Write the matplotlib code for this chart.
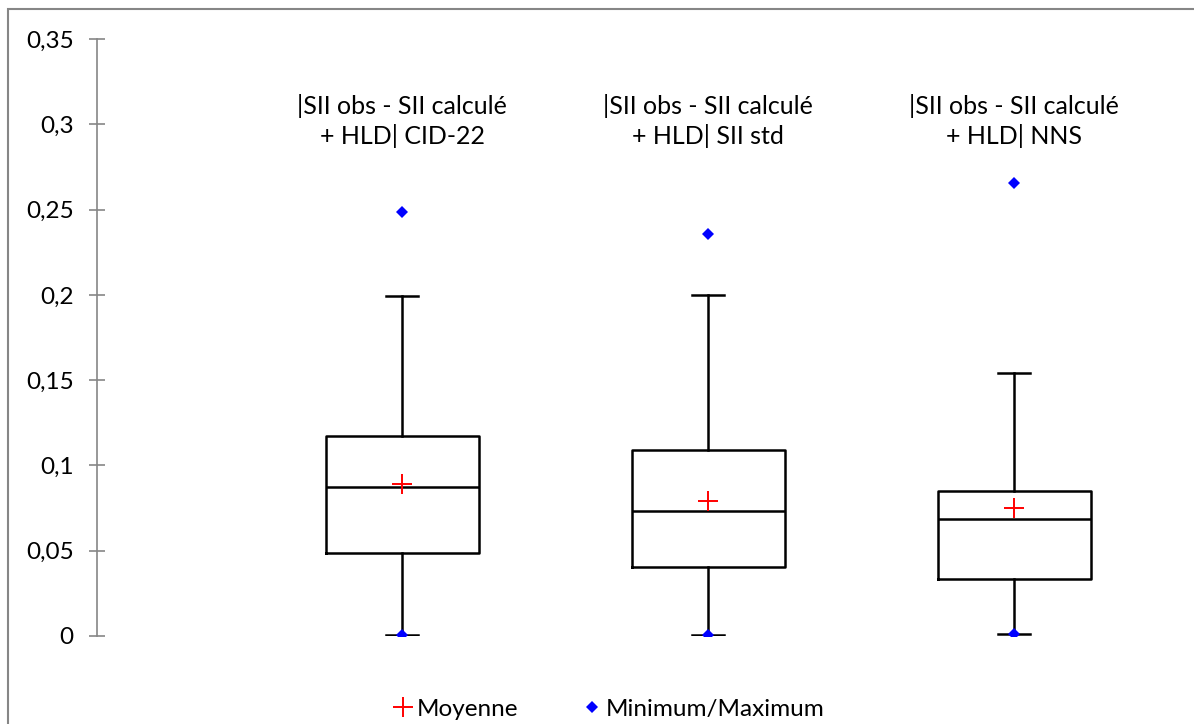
"""Box plot of |SII obs - SII calculé + HLD| for three references (XLSTAT style)."""

import matplotlib
matplotlib.use("Agg")
import matplotlib.pyplot as plt
from matplotlib.patches import Rectangle
from matplotlib.ticker import FuncFormatter

plt.rcParams["font.family"] = ["Lato", "DejaVu Sans"]

LABELS = ["|SII obs - SII calculé\n+ HLD| CID-22",
          "|SII obs - SII calculé\n+ HLD| SII std",
          "|SII obs - SII calculé\n+ HLD| NNS"]
Q1 = [0.0487, 0.0403, 0.0334]
MEDIAN = [0.0874, 0.0733, 0.0686]
Q3 = [0.1173, 0.1089, 0.0850]
WHIS_LO = [0.0006, 0.0006, 0.0012]
WHIS_HI = [0.1993, 0.1999, 0.1542]
MEAN = [0.0893, 0.0793, 0.0750]
MINIMUM = [0.0006, 0.0006, 0.0012]
MAXIMUM = [0.2486, 0.2357, 0.2656]
YTICKS = [0, 0.05, 0.1, 0.15, 0.2, 0.25, 0.3, 0.35]

AXIS_GRAY = "#868686"


def main():
    fig = plt.figure(figsize=(11.94, 7.24), dpi=100)
    ax = fig.add_axes([97 / 1194, 1 - 636 / 724, 1085 / 1194, 597 / 724])

    positions = [1, 2, 3]
    stats = [dict(q1=q1, med=m, q3=q3, whislo=lo, whishi=hi, fliers=[])
             for q1, m, q3, lo, hi in zip(Q1, MEDIAN, Q3, WHIS_LO, WHIS_HI)]
    line = dict(color="black", linewidth=1.8)
    ax.bxp(stats, positions=positions, widths=0.5, capwidths=0.105,
           showfliers=False, boxprops=line, whiskerprops=line,
           capprops=line, medianprops=line)

    ax.plot(positions, MEAN, ls="none", marker="+", color="#FF0000",
            markersize=14, markeredgewidth=1.4, label="Moyenne", zorder=4)
    ax.plot(positions + positions, MINIMUM + MAXIMUM, ls="none", marker="D",
            color="#0000FF", markersize=6.5, markeredgewidth=0,
            label="Minimum/Maximum", zorder=5)

    for x, lab in zip(positions, LABELS):
        ax.text(x, 0.302, lab, ha="center", va="center", fontsize=18,
                multialignment="center", linespacing=1.3)

    ax.set_xlim(1 - 305 / 306, 1 - 305 / 306 + 1085 / 306)
    ax.set_ylim(0, 0.35)
    ax.set_yticks(YTICKS)
    ax.yaxis.set_major_formatter(
        FuncFormatter(lambda v, _: f"{v:g}".replace(".", ",")))
    ax.tick_params(axis="y", direction="inout", length=11.5, width=1.2,
                   color=AXIS_GRAY, labelsize=17.5, pad=11)
    ax.set_xticks([])
    for side in ("top", "right", "bottom"):
        ax.spines[side].set_visible(False)
    ax.spines["left"].set_color(AXIS_GRAY)
    ax.spines["left"].set_linewidth(1.2)

    fig.legend(loc="center", bbox_to_anchor=(608 / 1194, 1 - 709 / 724),
               ncol=2, frameon=False, fontsize=17.5, handletextpad=0.1,
               handlelength=0.9, columnspacing=2.6)

    # chart-area border (right and bottom edges fall outside the picture)
    fig.add_artist(Rectangle((8 / 1194, -0.1), 1.2, 1.1 - 9 / 724,
                             transform=fig.transFigure, fill=False,
                             edgecolor=AXIS_GRAY, linewidth=1.5))

    fig.savefig("out.png", dpi=100)
    plt.close(fig)


if __name__ == "__main__":
    main()
